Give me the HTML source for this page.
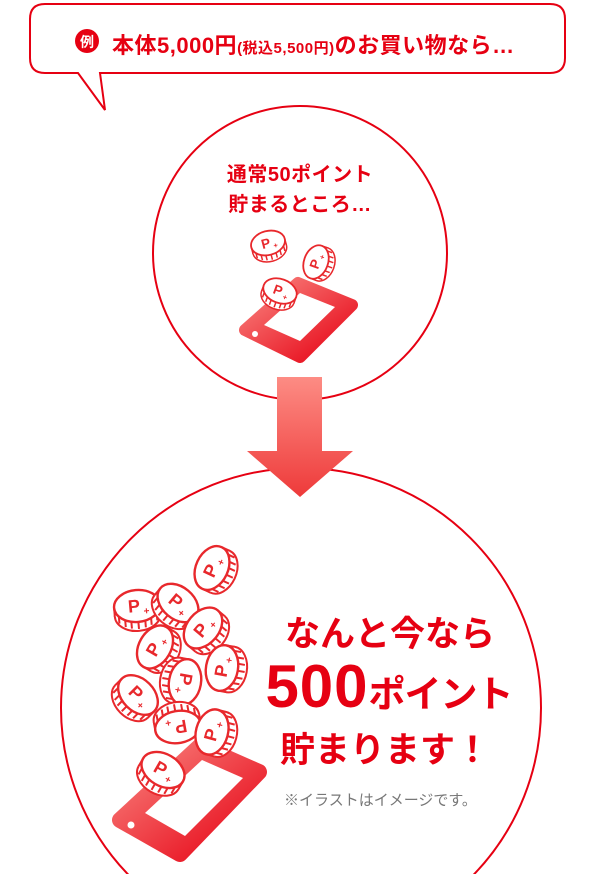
<!DOCTYPE html>
<html><head><meta charset="utf-8"><style>
html,body{margin:0;padding:0;background:#fff;overflow:hidden;}
body{width:600px;height:874px;overflow:hidden;position:relative;font-family:"Liberation Sans","Noto Sans CJK JP",sans-serif;}
.t{position:absolute;white-space:nowrap;font-weight:bold;color:#e60012;}
</style></head><body>
<svg width="600" height="874" style="position:absolute;left:0;top:0" xmlns="http://www.w3.org/2000/svg">
<defs>
<linearGradient id="ag" x1="0" y1="0" x2="0" y2="1"><stop offset="0" stop-color="#fd8c84"/><stop offset="1" stop-color="#ee3a3a"/></linearGradient>
<linearGradient id="pg" x1="0" y1="0" x2="1" y2="1"><stop offset="0" stop-color="#f98580"/><stop offset="1" stop-color="#e60012"/></linearGradient>
<g id="coin">
<ellipse cx="0" cy="9" rx="23" ry="16" fill="#fff" stroke="#e8282c" stroke-width="2"/>
<rect x="-23" y="0" width="46" height="9" fill="#fff"/>
<path d="M-23 0 V9 M23 0 V9" stroke="#e8282c" stroke-width="2"/>
<path d="M-19 8 V16 M-13 11 V20 M-7 13 V22 M0 14 V23 M7 13 V22 M13 11 V20 M19 8 V16" stroke="#e8282c" stroke-width="2"/>
<ellipse cx="0" cy="0" rx="23" ry="16" fill="#fff" stroke="#e8282c" stroke-width="2.4"/>
<text x="-3" y="6" font-family="Liberation Sans" font-weight="bold" font-size="18" fill="#e8282c" text-anchor="middle">P</text>
<text x="9" y="9" font-family="Liberation Sans" font-weight="bold" font-size="10" fill="#e8282c" text-anchor="middle">+</text>
</g>
</defs>
<path d="M45 4 H550 Q565 4 565 19 V58 Q565 73 550 73 H100 L105 110 L78 73 H45 Q30 73 30 58 V19 Q30 4 45 4 Z" fill="#fff" stroke="#e60012" stroke-width="2"/>
<circle cx="87" cy="41" r="12" fill="#e60012"/>
<circle cx="300" cy="253" r="147" fill="#fff" stroke="#e60012" stroke-width="2"/>
<circle cx="301" cy="708" r="240" fill="#fff" stroke="#e60012" stroke-width="2"/>
<path d="M277 377 H322 V451 H353 L300 497 L247 451 H277 Z" fill="url(#ag)"/>
<path d="M245 330 L298 283 L352 305 L300 357 Z" fill="url(#pg)" stroke="url(#pg)" stroke-width="12" stroke-linejoin="round"/>
<path d="M264 325 L300 293 L335 307 L300 341 Z" fill="#fff"/>
<circle cx="255" cy="334" r="3" fill="#fff"/>
<use href="#coin" transform="translate(268,243) rotate(-15) scale(0.75)"/>
<use href="#coin" transform="translate(316,262) rotate(-70) scale(0.75)"/>
<use href="#coin" transform="translate(280,291) rotate(20) scale(0.75)"/>
<path d="M120 820 L200 746 L259 772 L180 854 Z" fill="url(#pg)" stroke="url(#pg)" stroke-width="16" stroke-linejoin="round"/>
<path d="M145 813 L202 760 L243 778 L185 836 Z" fill="#fff"/>
<circle cx="131" cy="825" r="3.5" fill="#fff"/>
<use href="#coin" transform="translate(212,568) rotate(-65)"/>
<use href="#coin" transform="translate(137,606) rotate(-5)"/>
<use href="#coin" transform="translate(178,603) rotate(40)"/>
<use href="#coin" transform="translate(203,628) rotate(-50)"/>
<use href="#coin" transform="translate(155,647) rotate(-60)"/>
<use href="#coin" transform="translate(222,668) rotate(-80)"/>
<use href="#coin" transform="translate(185,682) rotate(100)"/>
<use href="#coin" transform="translate(138,695) rotate(45)"/>
<use href="#coin" transform="translate(178,727) rotate(170)"/>
<use href="#coin" transform="translate(212,732) rotate(-75)"/>
<use href="#coin" transform="translate(163,770) rotate(30)"/>
</svg>
<div class="t" style="left:80px;top:32px;font-size:14px;color:#fff;">例</div>
<div class="t" style="left:112px;top:28px;font-size:22px;letter-spacing:0.5px;">本体5,000円<span style="font-size:15px">(税込5,500円)</span>のお買い物なら…</div>
<div class="t" style="left:0;width:600px;text-align:center;top:160px;font-size:20px;line-height:30px;letter-spacing:0.5px;">通常50ポイント<br>貯まるところ…</div>
<div class="t" style="left:280px;width:220px;text-align:center;top:606px;font-size:35px;">なんと今なら</div>
<div class="t" style="left:258px;width:262px;text-align:center;top:652px;font-size:37px;letter-spacing:-1px;"><span style="font-size:60px;font-weight:900;letter-spacing:1px">500</span>ポイント</div>
<div class="t" style="left:280px;width:210px;text-align:center;top:722px;font-size:35px;">貯まります！</div>
<div class="t" style="left:284px;top:789px;font-size:15px;color:#777;font-weight:normal;">※イラストはイメージです。</div>
</body></html>
